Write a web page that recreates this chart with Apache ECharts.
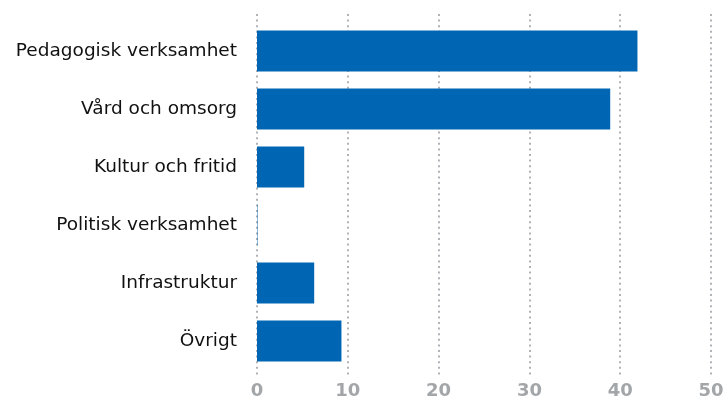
<!DOCTYPE html>
<html>
<head>
<meta charset="utf-8">
<script src="https://cdn.jsdelivr.net/npm/echarts@6/dist/echarts.min.js"></script>
<style>
  html, body { margin: 0; padding: 0; background: #fff; }
  #main { width: 723px; height: 403px; }
</style>
</head>
<body>
<div id="main"></div>
<script>
// kategorier uppifrån och ned
const categories = ['Pedagogisk verksamhet', 'Vård och omsorg', 'Kultur och fritid', 'Politisk verksamhet', 'Infrastruktur', 'Övrigt'];
const values = [41.9, 38.9, 5.2, 0.05, 6.3, 9.3];
const xTicks = [0, 10, 20, 30, 40, 50];

const chart = echarts.init(document.getElementById('main'));
const option = {
  animation: false,
  grid: [
    // staplar
    { left: 257, right: 12, top: 22, height: 348, outerBoundsMode: 'none' },
    // bara rutnätet, lite högre
    { left: 257, right: 12, top: 14, height: 361, outerBoundsMode: 'none' }
  ],
  xAxis: [
    {
      gridIndex: 0, type: 'value', min: xTicks[0], max: xTicks[xTicks.length - 1], interval: 10,
      axisLine: { show: false }, axisTick: { show: false },
      splitLine: { show: false },
      axisLabel: {
        margin: 12, color: '#a3a6a9', fontSize: 18, fontWeight: 'bold',
        fontFamily: 'DejaVu Sans'
      }
    },
    {
      gridIndex: 1, type: 'value', min: xTicks[0], max: xTicks[xTicks.length - 1], interval: 10,
      axisLine: { show: false }, axisTick: { show: false }, axisLabel: { show: false },
      splitLine: { show: true, lineStyle: { color: '#b0b3b6', width: 2, type: [2, 3.6] } }
    }
  ],
  yAxis: [
    {
      gridIndex: 0, type: 'category', data: categories, inverse: true,
      axisLine: { show: false }, axisTick: { show: false },
      axisLabel: {
        margin: 20, color: '#111', fontSize: 18.5, fontFamily: 'DejaVu Sans'
      }
    },
    {
      gridIndex: 1, type: 'category', data: categories, inverse: true, show: false
    }
  ],
  series: [{
    type: 'bar',
    xAxisIndex: 0, yAxisIndex: 0,
    data: values,
    barWidth: 41,
    itemStyle: { color: '#0066b3' },
    z: 3
  }]
};
chart.setOption(option);
</script>
</body>
</html>
